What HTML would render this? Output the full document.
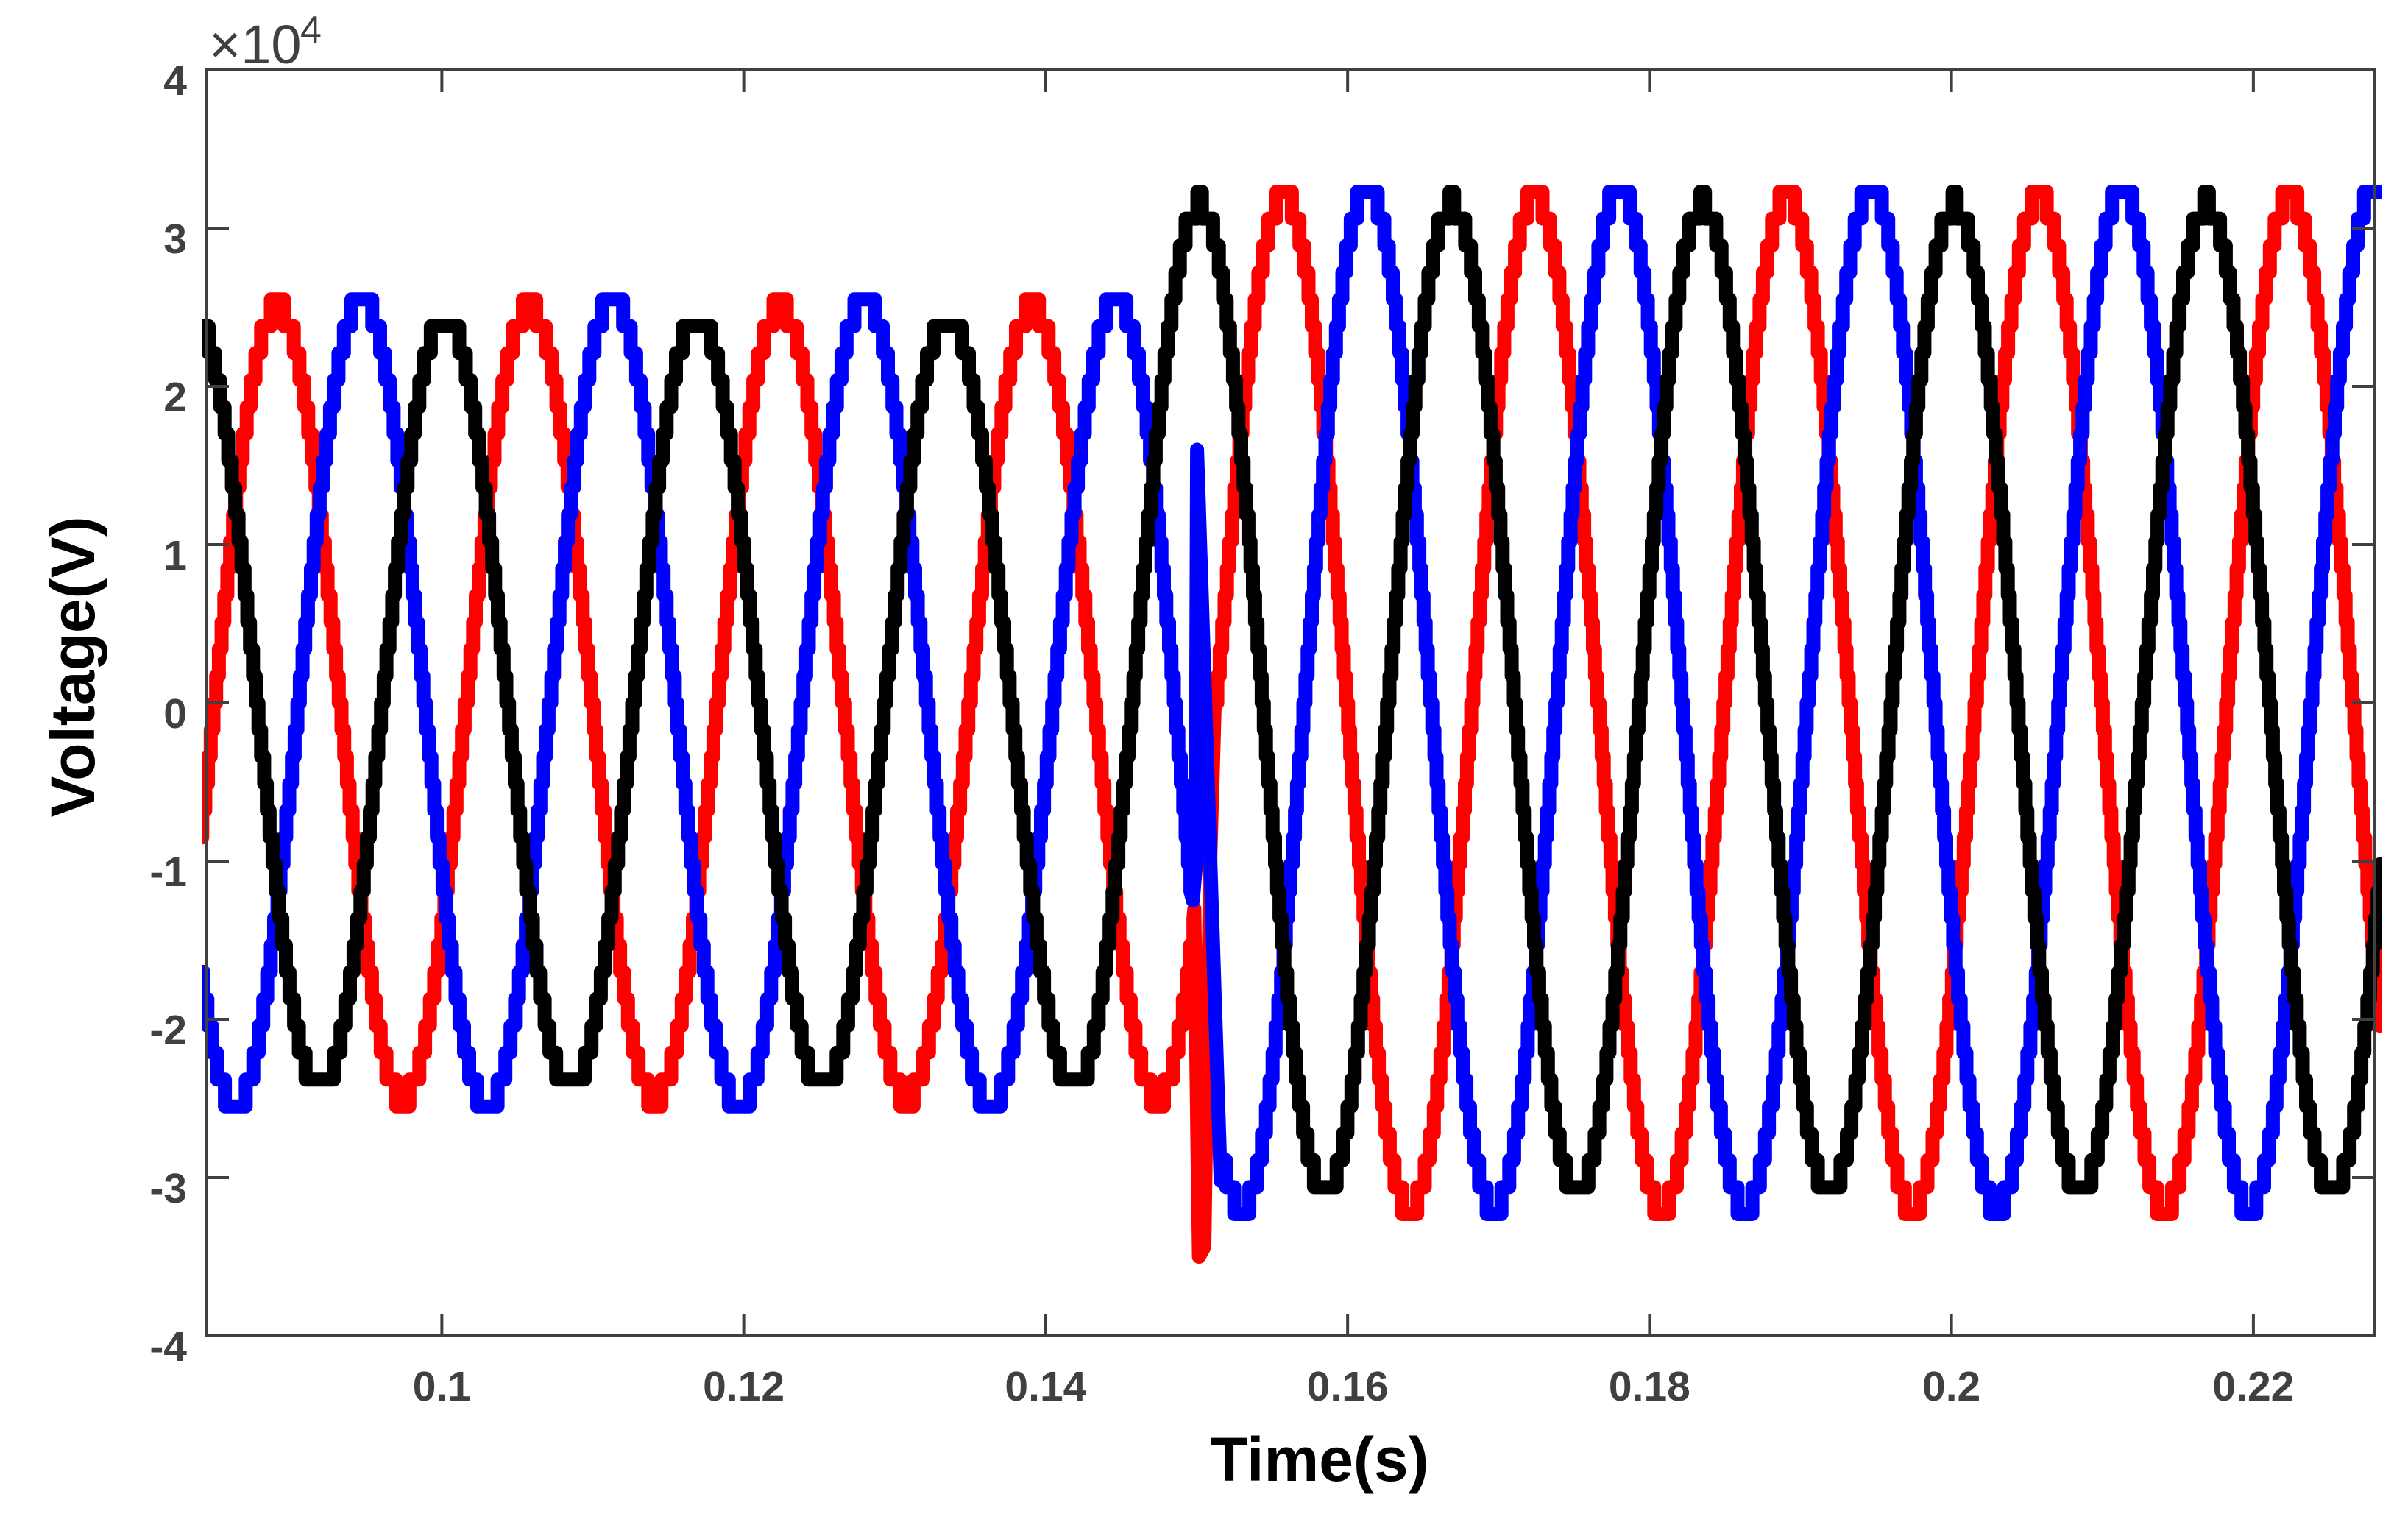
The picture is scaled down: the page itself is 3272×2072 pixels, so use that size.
<!DOCTYPE html>
<html><head><meta charset="utf-8">
<style>
html,body{margin:0;padding:0;background:#fff;}
svg{display:block;}
.tk{font-family:"Liberation Sans",Arial,sans-serif;font-weight:bold;font-size:57px;fill:#404040;}
.ttl{font-family:"Liberation Sans",Arial,sans-serif;font-weight:bold;font-size:84px;fill:#000;}
</style></head>
<body>
<svg id="chart" width="3272" height="2072" viewBox="0 0 3272 2072" xmlns="http://www.w3.org/2000/svg">
<defs><clipPath id="plotclip"><rect x="274" y="85" width="2962" height="1735"/></clipPath></defs>
<g id="series" clip-path="url(#plotclip)"></g>
<g id="axes"></g>
</svg>
<script>
// ---- data ----
const xTicks = [0.1, 0.12, 0.14, 0.16, 0.18, 0.2, 0.22];
const xTickLabels = ["0.1", "0.12", "0.14", "0.16", "0.18", "0.2", "0.22"];
const yTicks = [-4, -3, -2, -1, 0, 1, 2, 3, 4];
const yTickLabels = ["-4", "-3", "-2", "-1", "0", "1", "2", "3", "4"];
const seriesNames = ["phase-a", "phase-b", "phase-c"];
// extreme points (time s, value x1e4 V) for each phase
const redExtT = [0.0808,0.0891,0.0974,0.1058,0.1141,0.1224,0.1308,0.1391,0.1474,0.1558,0.1641,0.1724,0.1808,0.1891,0.1974,0.2058,0.2141,0.2224,0.2308];
const redExtV = [-2.5,2.5,-2.5,2.5,-2.5,2.5,-2.5,2.5,-2.5,3.2,-3.2,3.2,-3.2,3.2,-3.2,3.2,-3.2,3.2,-3.2];
const blueExtT = [0.0780,0.0863,0.0947,0.1030,0.1113,0.1197,0.1280,0.1363,0.1447,0.1530,0.1613,0.1697,0.1780,0.1863,0.1947,0.2030,0.2113,0.2197,0.2280,0.2363];
const blueExtV = [2.55,-2.55,2.55,-2.55,2.55,-2.55,2.55,-2.55,2.55,-3.2,3.25,-3.2,3.25,-3.2,3.25,-3.2,3.25,-3.2,3.25,-3.2];
const blackExtT = [0.0836,0.0919,0.1002,0.1085,0.1169,0.1252,0.1335,0.1419,0.1502,0.1585,0.1669,0.1752,0.1835,0.1919,0.2002,0.2085,0.2169,0.2252,0.2335];
const blackExtV = [2.45,-2.45,2.45,-2.45,2.45,-2.45,2.45,-2.45,3.15,-3.1,3.15,-3.1,3.15,-3.1,3.15,-3.1,3.15,-3.1,3.15];
// fault transients
const redTrT = [0.14985,0.15015,0.1505,0.1509,0.1512];
const redTrV = [-1.3,-3.5,-3.5,-1.0,0.0];
const blueTrT = [0.14975,0.14993,0.15003,0.1516];
const blueTrV = [-1.25,-1.05,1.6,-3.05];
const blackTrT = [];
const blackTrV = [];

// ---- axes geometry ----
const X0=281, X1=3226, Y0=95, Y1=1815;
const xMin=0.08443, xMax=0.2280, yMin=-4, yMax=4;
const xs = t => X0 + (t-xMin)/(xMax-xMin)*(X1-X0);
const ys = v => Y1 - (v-yMin)/(yMax-yMin)*(Y1-Y0);
const NS="http://www.w3.org/2000/svg";

function baseVal(T,V,t){
  for(let i=0;i<T.length-1;i++){
    if(t>=T[i] && t<=T[i+1]){
      const f=(t-T[i])/(T[i+1]-T[i]);
      return V[i]+(V[i+1]-V[i])*(1-Math.cos(Math.PI*f))/2;
    }
  }
  return t<T[0]?V[0]:V[V.length-1];
}
function val(T,V,TT,TV,t){
  if(TT.length>1 && t>=TT[0] && t<=TT[TT.length-1]){
    for(let i=0;i<TT.length-1;i++){
      if(t>=TT[i]&&t<=TT[i+1]){const f=(t-TT[i])/(TT[i+1]-TT[i]);return TV[i]+(TV[i+1]-TV[i])*f;}
    }
  }
  return baseVal(T,V,t);
}
function buildPath(T,V,TT,TV){
  const q=0.17, dt=0.00002;
  let d="", prevY=null;
  for(let t=xMin-0.0004;t<=xMax+0.0004;t+=dt){
    let v=val(T,V,TT,TV,t);
    const inTr = TT.length>1 && t>=TT[0] && t<=TT[TT.length-1];
    if(!inTr) v=Math.round(v/q)*q;
    const x=xs(t).toFixed(1), y=ys(v).toFixed(1);
    if(prevY===null){d+="M"+x+" "+y;}
    else if(y!==prevY){ if(!inTr) d+="L"+x+" "+prevY; d+="L"+x+" "+y;}
    prevY=y;
  }
  d+="L"+xs(xMax+0.0004).toFixed(1)+" "+prevY;
  return d;
}
const g=document.getElementById('series');
const defs=[[redExtT,redExtV,redTrT,redTrV,"#ff0000","phase-a-line"],
            [blueExtT,blueExtV,blueTrT,blueTrV,"#0000ff","phase-b-line"],
            [blackExtT,blackExtV,blackTrT,blackTrV,"#000000","phase-c-line"]];
defs.forEach(s=>{
  const p=document.createElementNS(NS,'path');
  p.setAttribute('d',buildPath(s[0],s[1],s[2],s[3]));
  p.setAttribute('fill','none');p.setAttribute('stroke',s[4]);
  p.setAttribute('stroke-width','19');p.setAttribute('stroke-linejoin','round');p.setAttribute('stroke-linecap','round');
  
  
  g.appendChild(p);
});

// ---- axes ----
const ax=document.getElementById('axes');
function el(tag,attrs,text){const e=document.createElementNS(NS,tag);for(const k in attrs)e.setAttribute(k,attrs[k]);if(text!==undefined)e.textContent=text;ax.appendChild(e);return e;}
const box=el('rect',{x:X0,y:Y0,width:X1-X0,height:Y1-Y0,fill:'none',stroke:'#404040','stroke-width':4});


xTicks.forEach((t,i)=>{
  const x=xs(t);
  const a=el('line',{x1:x,y1:Y1,x2:x,y2:Y1-30,stroke:'#404040','stroke-width':4});
  
  
  const b=el('line',{x1:x,y1:Y0,x2:x,y2:Y0+30,stroke:'#404040','stroke-width':4});
  
  
  const l=el('text',{x:x,y:1903,'text-anchor':'middle',class:'tk'},xTickLabels[i]);
  
  
});
yTicks.forEach((v,i)=>{
  const y=ys(v);
  const a=el('line',{x1:X0,y1:y,x2:X0+30,y2:y,stroke:'#404040','stroke-width':4});
  
  
  const b=el('line',{x1:X1,y1:y,x2:X1-30,y2:y,stroke:'#404040','stroke-width':4});
  
  
  const l=el('text',{x:254,y:y+34,'text-anchor':'end',class:'tk'},yTickLabels[i]);
  
  
});
const ex=el('text',{x:284,y:86,style:'font-family:"Liberation Sans",Arial,sans-serif;font-size:74px;fill:#404040'},'×10');


const ex2=el('text',{x:408,y:58,style:'font-family:"Liberation Sans",Arial,sans-serif;font-size:52px;fill:#404040'},'4');


const xt=el('text',{x:1793,y:2012,'text-anchor':'middle',class:'ttl'},'Time(s)');


const yt=el('text',{x:0,y:0,'text-anchor':'middle',class:'ttl',transform:'translate(128,906) rotate(-90)'},'Voltage(V)');


</script>
</body></html>
